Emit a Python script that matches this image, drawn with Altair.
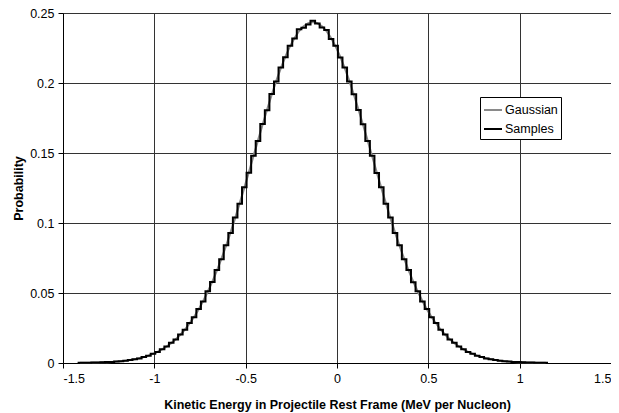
import altair as alt
import pandas as pd

# Histogram bins (bin edges start and width)
bin_start = -1.42
bin_width = 0.025

# Gaussian curve values at bin centres
gaussian = [
    0.0001, 0.00015, 0.0002, 0.0003, 0.0004, 0.0005, 0.0006, 0.0008, 0.0010, 0.0013,
    0.0017, 0.0021, 0.0027, 0.0034, 0.0042, 0.0053, 0.0065, 0.0080, 0.0097, 0.0118,
    0.0142, 0.0170, 0.0202, 0.0239, 0.0282, 0.0329, 0.0383, 0.0443, 0.0509, 0.0581,
    0.0660, 0.0745, 0.0837, 0.0933, 0.1035, 0.1142, 0.1251, 0.1363, 0.1477, 0.1590,
    0.1702, 0.1811, 0.1916, 0.2015, 0.2106, 0.2189, 0.2261, 0.2322, 0.2371, 0.2406,
    0.2428,
    0.2435,
    0.2428, 0.2406, 0.2371, 0.2322, 0.2261, 0.2189, 0.2106, 0.2015, 0.1916, 0.1811,
    0.1702, 0.1590, 0.1477, 0.1363, 0.1251, 0.1142, 0.1035, 0.0933, 0.0837, 0.0745,
    0.0660, 0.0581, 0.0509, 0.0443, 0.0383, 0.0329, 0.0282, 0.0239, 0.0202, 0.0170,
    0.0142, 0.0118, 0.0097, 0.0080, 0.0065, 0.0053, 0.0042, 0.0034, 0.0027, 0.0021,
    0.0017, 0.0013, 0.0010, 0.0008, 0.0006, 0.0005, 0.0004, 0.0003, 0.0002, 0.00015,
    0.0001,
]

# Sample histogram (probability per bin)
samples = [
    0.0001, 0.0001, 0.0002, 0.0003, 0.0004, 0.0005, 0.0007, 0.0008, 0.0011, 0.0013,
    0.0016, 0.0022, 0.0027, 0.0033, 0.0043, 0.0052, 0.0066, 0.0079, 0.0099, 0.0117,
    0.0144, 0.0168, 0.0204, 0.0237, 0.0285, 0.0326, 0.0386, 0.0440, 0.0512, 0.0578,
    0.0664, 0.0741, 0.0841, 0.0929, 0.1039, 0.1138, 0.1256, 0.1359, 0.1481, 0.1586,
    0.1707, 0.1806, 0.1921, 0.2010, 0.2111, 0.2184, 0.2266, 0.2317, 0.2384, 0.2395,
    0.2418,
    0.2445,
    0.2425, 0.2397, 0.2378, 0.2315, 0.2266, 0.2183, 0.2110, 0.2011, 0.1920, 0.1808,
    0.1705, 0.1586, 0.1481, 0.1358, 0.1255, 0.1137, 0.1040, 0.0928, 0.0841, 0.0741,
    0.0664, 0.0577, 0.0512, 0.0440, 0.0386, 0.0326, 0.0285, 0.0237, 0.0204, 0.0168,
    0.0144, 0.0117, 0.0099, 0.0079, 0.0066, 0.0052, 0.0043, 0.0033, 0.0027, 0.0022,
    0.0016, 0.0013, 0.0011, 0.0008, 0.0007, 0.0005, 0.0004, 0.0003, 0.0002, 0.0001,
    0.0001,
]

x_ticks = [-1.5, -1.0, -0.5, 0.0, 0.5, 1.0, 1.5]
y_ticks = [0, 0.05, 0.1, 0.15, 0.2, 0.25]
series_names = ["Gaussian", "Samples"]
series_colors = ["#8a8a8a", "#000000"]

n = len(samples)
edges = [round(bin_start + bin_width * k, 4) for k in range(n + 1)]
centers = [round(bin_start + bin_width * (k + 0.5), 4) for k in range(n)]

gauss_df = pd.DataFrame({"x": centers, "y": gaussian, "series": "Gaussian"})
samp_df = pd.DataFrame({
    "x": edges,
    "y": samples + [samples[-1]],
    "series": "Samples",
})

FONT = "Liberation Sans"
PLOT_H = 350

color = alt.Color(
    "series:N",
    scale=alt.Scale(domain=series_names, range=series_colors),
    legend=alt.Legend(
        title=None,
        orient="none",
        legendX=417,
        legendY=84,
        symbolType="stroke",
        symbolSize=324,
        symbolStrokeWidth=2,
        labelFont=FONT,
        labelFontSize=12.5,
        labelColor="#000",
        labelOffset=2,
        strokeColor="#000",
        fillColor="#ffffff",
        padding=3,
        rowPadding=2,
    ),
)

x_enc = alt.X(
    "x:Q",
    scale=alt.Scale(domain=[-1.5, 1.5], nice=False, zero=False),
    axis=alt.Axis(
        values=x_ticks,
        labelExpr="'' + datum.value",
        title="Kinetic Energy in Projectile Rest Frame (MeV per Nucleon)",
        titleY=41,
        titleBaseline="middle",
    ),
)
y_enc = alt.Y(
    "y:Q",
    scale=alt.Scale(domain=[0, 0.25], nice=False),
    axis=alt.Axis(
        values=y_ticks,
        labelExpr="'' + datum.value",
        title="Probability",
        titleX=-45,
        titleY=PLOT_H / 2,
        titleBaseline="middle",
        titleAngle=-90,
    ),
)

gauss = alt.Chart(gauss_df).mark_line(strokeWidth=2).encode(
    x=x_enc, y=y_enc, color=color
)
samp = alt.Chart(samp_df).mark_line(strokeWidth=2, interpolate="step-after").encode(
    x=x_enc, y=y_enc, color=color
)

chart = (
    alt.layer(gauss, samp)
    .properties(
        width=548,
        height=PLOT_H,
        autosize=alt.AutoSizeParams(type="none"),
        padding={"left": 55, "top": 5, "right": 0, "bottom": 50},
    )
    .configure_view(strokeWidth=0)
    .configure_axis(
        labelFont=FONT,
        labelFontSize=12.5,
        labelColor="#000",
        titleFont=FONT,
        titleFontSize=12.5,
        titleFontWeight="bold",
        titleColor="#000",
        domainColor="#000",
        domainWidth=1,
        tickColor="#000",
        tickSize=5,
        labelPadding=4,
        gridColor="#333333",
        gridWidth=1,
        grid=True,
    )
)

chart.save("out.html", embed_options={"renderer": "svg", "actions": False})
